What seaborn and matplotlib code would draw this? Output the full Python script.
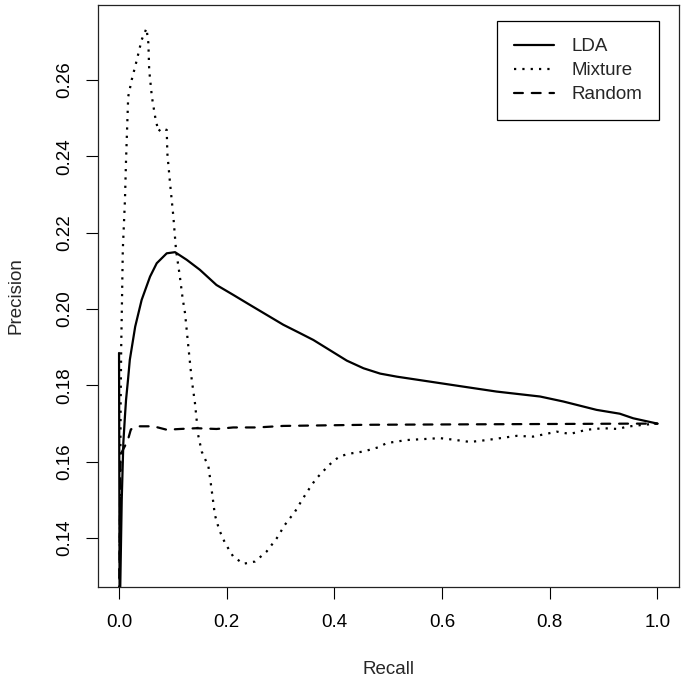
import numpy as np
import pandas as pd
import matplotlib
matplotlib.use("Agg")
import matplotlib.pyplot as plt
import seaborn as sns
from matplotlib.lines import Line2D

# ---- data ----
lda_recall = [0.0, 0.001, 0.002, 0.005, 0.008, 0.011, 0.013, 0.017, 0.020, 0.030,
              0.042, 0.0576, 0.070, 0.0886, 0.104, 0.1257, 0.150, 0.181, 0.2123,
              0.243, 0.274, 0.305, 0.336, 0.361, 0.392, 0.423, 0.454, 0.485, 0.516, 0.5775,
              0.639, 0.701, 0.782, 0.825, 0.887, 0.930, 0.955, 1.0]
lda_precision = [0.1885, 0.125, 0.125, 0.150, 0.165, 0.172, 0.1762, 0.1820, 0.1867, 0.1954,
                 0.2024, 0.2085, 0.2120, 0.2146, 0.2149, 0.2129, 0.2103, 0.2063, 0.2037,
                 0.2011, 0.1985, 0.1959, 0.1937, 0.1919, 0.1892, 0.1865, 0.1845, 0.1831, 0.1823, 0.1810,
                 0.1797, 0.1784, 0.1771, 0.1758, 0.1736, 0.1726, 0.1714, 0.1700]

mix_recall = [0.001, 0.002, 0.003, 0.004, 0.005, 0.007, 0.011, 0.013, 0.017, 0.0235,
              0.033, 0.042, 0.051, 0.0545, 0.056, 0.061, 0.067, 0.073, 0.079, 0.0886,
              0.0897, 0.0947, 0.1009, 0.1058, 0.113, 0.118, 0.1226, 0.1287, 0.135, 0.141,
              0.147, 0.1535, 0.166, 0.170, 0.174, 0.178, 0.186, 0.197, 0.212, 0.231,
              0.2526, 0.274, 0.293, 0.308, 0.327, 0.342, 0.358, 0.367, 0.379, 0.389,
              0.399, 0.410, 0.426, 0.454, 0.4815, 0.497, 0.534, 0.596, 0.621, 0.652,
              0.683, 0.7385, 0.769, 0.813, 0.8375, 0.8685, 0.899, 0.927, 0.943, 0.974, 1.0]
mix_precision = [0.127, 0.150, 0.175, 0.190, 0.198, 0.2155, 0.2286, 0.2390, 0.2556, 0.2600,
                 0.2652, 0.2705, 0.2735, 0.2696, 0.2626, 0.2556, 0.2504, 0.2465, 0.2474, 0.2469,
                 0.2408, 0.2330, 0.2242, 0.2155, 0.2085, 0.2029, 0.1989, 0.1902, 0.1815, 0.1754,
                 0.1670, 0.1627, 0.1588, 0.1548, 0.1505, 0.1461, 0.1422, 0.1387, 0.1352, 0.1333,
                 0.1339, 0.1365, 0.1400, 0.1435, 0.1470, 0.1505, 0.1540, 0.1557, 0.1575, 0.1590,
                 0.1603, 0.1614, 0.1621, 0.1627, 0.1638, 0.1649, 0.1657, 0.1662, 0.1658, 0.1652,
                 0.1657, 0.1668, 0.1666, 0.1679, 0.1673, 0.1684, 0.1688, 0.1686, 0.1692, 0.1697, 0.1700]

rnd_recall = [0.0, 0.002, 0.003, 0.016, 0.022, 0.035, 0.064, 0.0886, 0.113, 0.144,
              0.181, 0.212, 0.256, 0.305, 0.46, 0.955, 1.0]
rnd_precision = [0.125, 0.150, 0.162, 0.1655, 0.1685, 0.1693, 0.1693, 0.1684, 0.1686, 0.1688,
                 0.1686, 0.1690, 0.1690, 0.1694, 0.1697, 0.1700, 0.1700]

series_names = ["LDA", "Mixture", "Random"]
x_ticks = [0.0, 0.2, 0.4, 0.6, 0.8, 1.0]
y_ticks = [0.14, 0.16, 0.18, 0.20, 0.22, 0.24, 0.26]

# ---- figure ----
sns.set_style("white")
plt.rcParams["font.family"] = ["Liberation Sans", "DejaVu Sans"]

W = H = 685
fig = plt.figure(figsize=(6.85, 6.85), dpi=100)
L, R, T, B = 97.5, 679.0, 4.7, 586.7
ax = fig.add_axes([L / W, 1 - B / H, (R - L) / W, (B - T) / H])

lw = 1.6
styles = {
    "LDA": dict(linestyle="-"),
    "Mixture": dict(linestyle=(0, (1.0, 2.75)), dash_capstyle="butt"),
    "Random": dict(linestyle=(0, (4, 4)), dash_capstyle="round"),
}
data = {
    "LDA": (lda_recall, lda_precision),
    "Mixture": (mix_recall, mix_precision),
    "Random": (rnd_recall, rnd_precision),
}
for name in series_names:
    xr, yp = data[name]
    df = pd.DataFrame({"Recall": xr, "Precision": yp})
    sns.lineplot(data=df, x="Recall", y="Precision", sort=False, estimator=None,
                 color="black", lw=lw, ax=ax, **styles[name])

ax.set_xlim(-0.04, 1.04)
ax.set_ylim(0.1273, 0.2797)
ax.set_xticks(x_ticks)
ax.set_xticklabels([f"{v:.1f}" for v in x_ticks])
ax.set_yticks(y_ticks)
ax.set_yticklabels([f"{v:.2f}" for v in y_ticks], rotation=90, va="center")

fs = 13.5
ax.tick_params(axis="both", direction="out", length=8.9, width=0.8,
               colors="black", labelsize=fs, bottom=True, left=True)
ax.tick_params(axis="x", pad=11)
ax.tick_params(axis="y", pad=8.5)
for s in ax.spines.values():
    s.set_color("#222222")
    s.set_linewidth(0.9)

ax.set_xlabel("Recall", fontsize=fs)
ax.set_ylabel("Precision", fontsize=fs)
ax.xaxis.set_label_coords(0.5, -0.1285)
ax.yaxis.set_label_coords((25 - L) / (R - L), 0.5)

handles = [Line2D([], [], color="black", lw=lw, **styles[n]) for n in series_names]
leg = ax.legend(handles, series_names, loc="upper right",
                bbox_to_anchor=((659 - L) / (R - L), 1 - (21.5 - T) / (B - T)),
                borderaxespad=0, fontsize=fs, handlelength=2.15, handletextpad=0.9,
                borderpad=0.9, labelspacing=0.36, fancybox=False, framealpha=1,
                edgecolor="black")
leg.get_frame().set_linewidth(0.9)

fig.savefig("out.png", dpi=100)
